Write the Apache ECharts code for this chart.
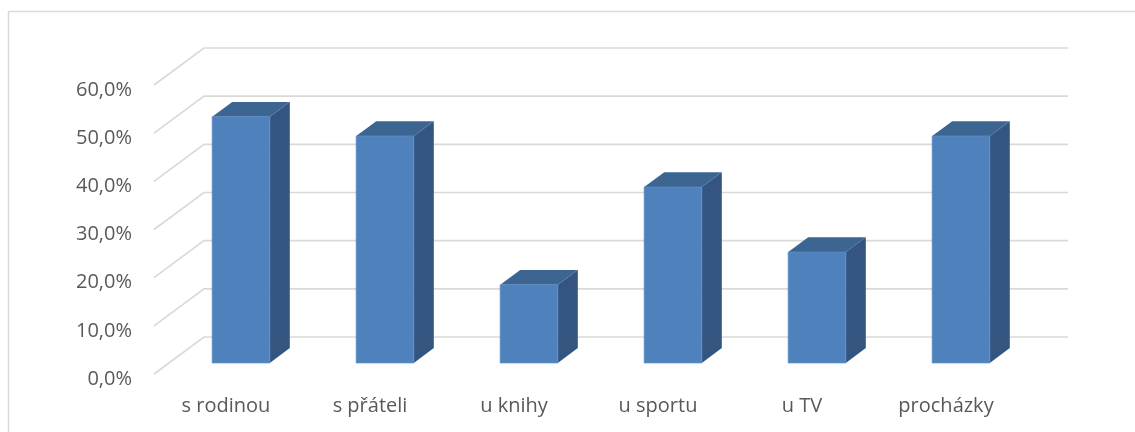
<!DOCTYPE html>
<html>
<head>
<meta charset="utf-8">
<script src="https://cdn.jsdelivr.net/npm/echarts@6/dist/echarts.min.js"></script>
<style>
html,body{margin:0;padding:0;background:#fff;}
#chart{width:1135px;height:432px;}
</style>
</head>
<body>
<div id="chart"></div>
<script>
const categories = ['s rodinou', 's přáteli', 'u knihy', 'u sportu', 'u TV', 'procházky'];
const values = [51.1, 47.1, 16.2, 36.5, 23.0, 47.1];
const yTicks = [0, 10, 20, 30, 40, 50, 60];

// oblique projection of depth (front plane -> back wall)
const DX = 50, DY = -37;
const BAR_Z0 = 0.3, BAR_Z1 = 0.7, BAR_W = 0.4;
const FRONT = '#4F81BD', TOP = '#3D6592', SIDE = '#34557F';
const GRID_COLOR = '#D9D9D9', TEXT = '#595959';

function fmt(v) { return '{v|' + v.toFixed(1).replace('.', ',') + '%}'; }

function renderWall(params, api) {
  const cs = params.coordSys;
  const y = api.coord([0, api.value(1)])[1];
  const x0 = cs.x, x1 = cs.x + cs.width;
  return {
    type: 'polyline',
    silent: true,
    shape: { points: [[x0, y], [x0 + DX, y + DY], [x1 + DX, y + DY]] },
    style: { stroke: GRID_COLOR, lineWidth: 1.6, fill: null }
  };
}

function renderBar(params, api) {
  const i = api.value(0), v = api.value(1);
  const base = api.coord([i, 0]);
  const top = api.coord([i, v]);
  const band = api.size([1, 0])[0];
  const w = band * BAR_W;
  const xL = base[0] - w / 2 + DX * BAR_Z0;
  const xR = xL + w;
  const yB = base[1] + DY * BAR_Z0;
  const yT = top[1] + DY * BAR_Z0;
  const bx = DX * (BAR_Z1 - BAR_Z0), by = DY * (BAR_Z1 - BAR_Z0);
  return {
    type: 'group',
    children: [
      { type: 'polygon', shape: { points: [[xR, yB], [xR + bx, yB + by], [xR + bx, yT + by], [xR, yT]] }, style: { fill: SIDE } },
      { type: 'polygon', shape: { points: [[xL, yT], [xR, yT], [xR + bx, yT + by], [xL + bx, yT + by]] }, style: { fill: TOP } },
      { type: 'rect', shape: { x: xL, y: yT, width: w, height: yB - yT }, style: { fill: FRONT, stroke: '#5F8CC4', lineWidth: 0.8 } }
    ]
  };
}

const chart = echarts.init(document.getElementById('chart'), null, { renderer: 'canvas' });
chart.setOption({
  animation: false,
  backgroundColor: '#fff',
  textStyle: { fontFamily: 'Open Sans' },
  graphic: [{
    type: 'rect', silent: true, z: -10,
    shape: { x: 8.5, y: 11.5, width: 1300, height: 600 },
    style: { fill: null, stroke: GRID_COLOR, lineWidth: 1.5 }
  }],
  grid: { left: 154, right: 117, top: 85, bottom: 58 },
  xAxis: {
    type: 'category',
    data: categories,
    axisLine: { show: false },
    axisTick: { show: false },
    splitLine: { show: false },
    axisLabel: { color: TEXT, fontSize: 20, fontFamily: 'Open Sans', margin: 22 }
  },
  yAxis: {
    type: 'value',
    min: 0, max: 60, interval: 10,
    axisLine: { show: false },
    axisTick: { show: false },
    splitLine: { show: false },
    axisLabel: {
      color: TEXT, fontSize: 20, fontFamily: 'Open Sans', margin: 22, formatter: fmt,
      rich: { v: { color: TEXT, fontSize: 20, fontFamily: 'Open Sans', padding: [10, 0, 0, 0] } }
    }
  },
  series: [
    {
      type: 'custom',
      renderItem: renderWall,
      data: yTicks.map(v => [0, v]),
      silent: true,
      z: 1
    },
    {
      type: 'custom',
      renderItem: renderBar,
      data: values.map((v, i) => [i, v]),
      z: 2
    }
  ]
});
</script>
</body>
</html>
